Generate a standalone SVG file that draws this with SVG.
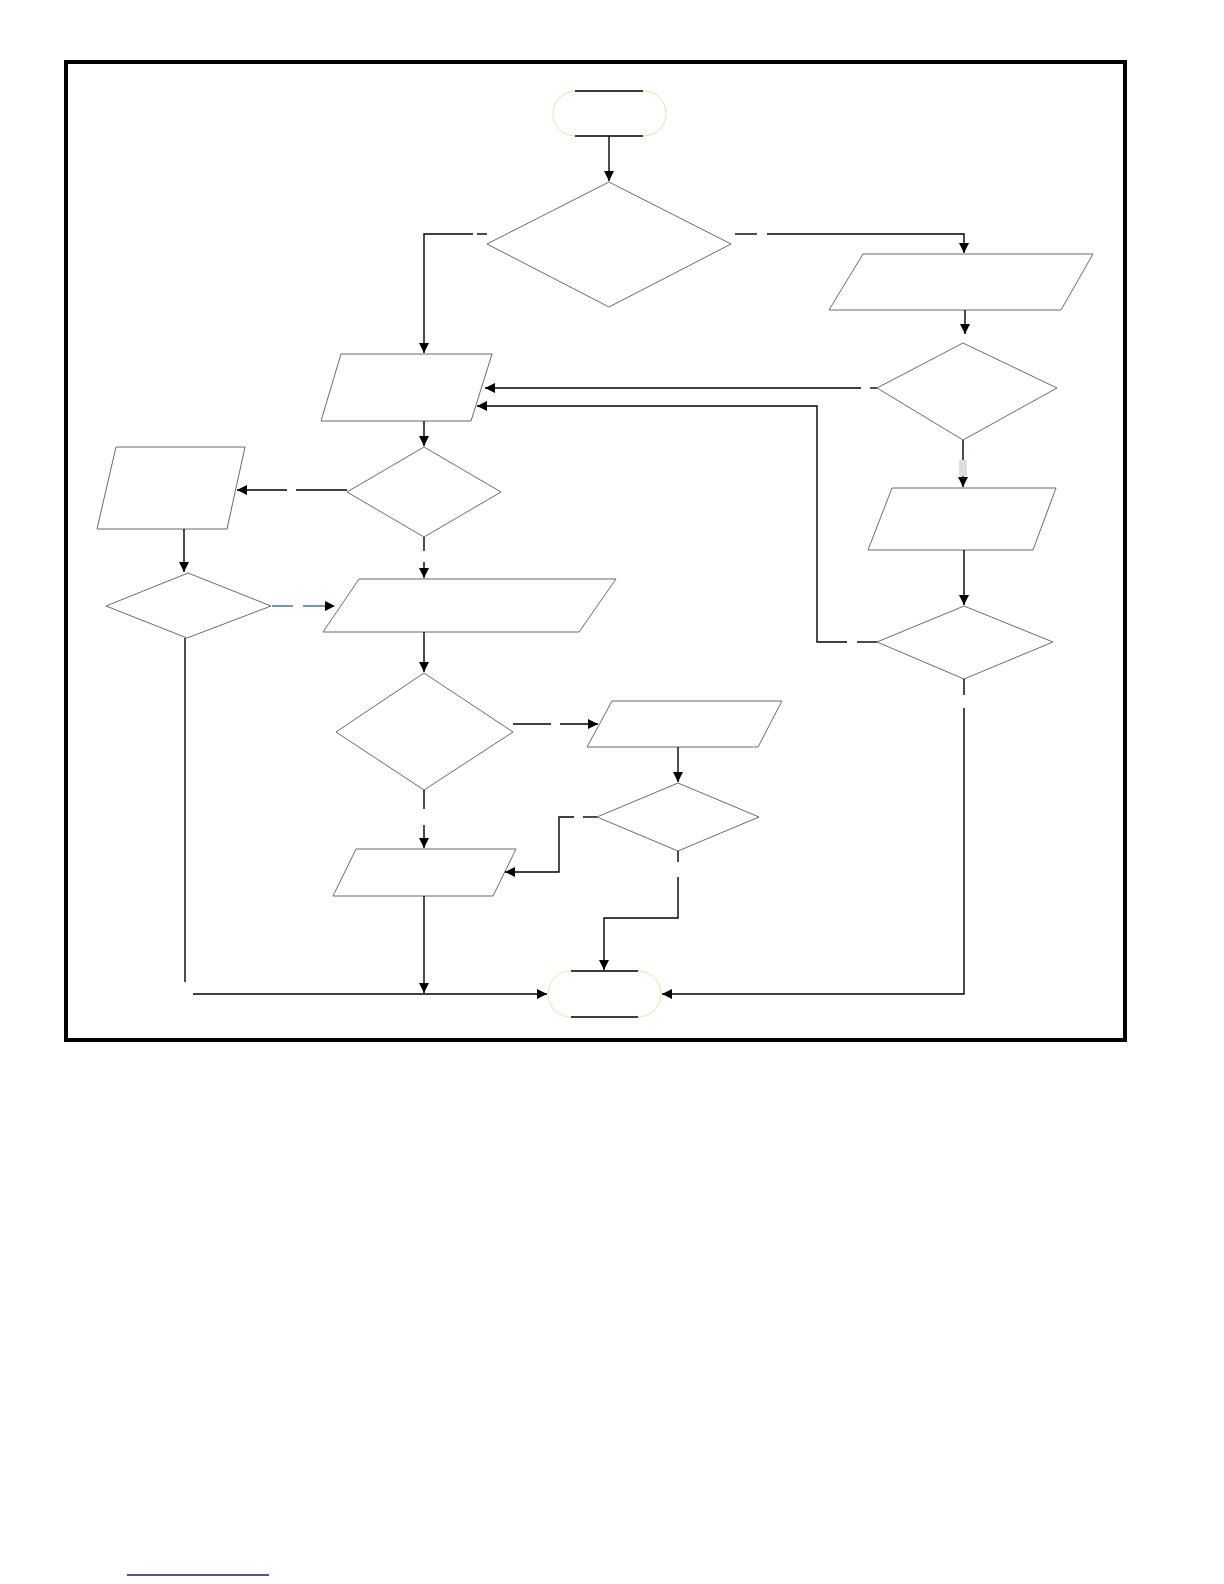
<svg xmlns="http://www.w3.org/2000/svg" width="1224" height="1584" viewBox="0 0 1224 1584">
<style>
.shape{fill:#fff;stroke:#6b6b6b;stroke-width:1}
.term{fill:#fff;stroke:#eadfae;stroke-width:1}
.tl{stroke:#000;stroke-width:1.5}
.c{fill:none;stroke:#000;stroke-width:1.4}
.blue{fill:none;stroke:#2f6e9e;stroke-width:1.4}
</style>
<defs>
<marker id="ah" viewBox="0 0 10 10" refX="10" refY="5" markerWidth="11" markerHeight="10" markerUnits="userSpaceOnUse" orient="auto">
<path d="M0,0 L10,5 L0,10 z" fill="#000"/>
</marker>
</defs>
<rect x="0" y="0" width="1224" height="1584" fill="#fff"/>
<rect id="frame" x="66" y="62" width="1059" height="978" fill="none" stroke="#000" stroke-width="4"/>

<g id="start">
<rect class="term" x="553" y="91" width="113" height="45" rx="22.5"/>
<line class="tl" x1="575" y1="91" x2="643" y2="91"/>
<line class="tl" x1="575" y1="136" x2="643" y2="136"/>
</g>
<g id="d1"><polygon class="shape" points="609,182 731,244 609,307 487,244"/></g>
<g id="p2"><polygon class="shape" points="341,354 492,354 471,421 321,421"/></g>
<g id="d3"><polygon class="shape" points="424,447 501,492 424,537 347,492"/></g>
<g id="p4"><polygon class="shape" points="116,447 245,447 227,529 97,529"/></g>
<g id="d4"><polygon class="shape" points="188,573 271,606 187,638 106,606"/></g>
<g id="p5"><polygon class="shape" points="359,579 616,579 579,632 323,632"/></g>
<g id="d6"><polygon class="shape" points="424,673 513,732 424,790 336,732"/></g>
<g id="p7"><polygon class="shape" points="612,701 782,701 758,747 587,747"/></g>
<g id="d8"><polygon class="shape" points="678,783 759,817 678,851 597,817"/></g>
<g id="p9"><polygon class="shape" points="356,849 516,849 493,896 333,896"/></g>
<g id="p10"><polygon class="shape" points="863,254 1093,254 1061,310 829,310"/></g>
<g id="d11"><polygon class="shape" points="963,343 1057,388 963,440 877,388"/></g>
<g id="p12"><polygon class="shape" points="892,488 1056,488 1033,550 868,550"/></g>
<g id="d13"><polygon class="shape" points="964,606 1053,642 964,679 877,642"/></g>
<g id="end">
<rect class="term" x="548" y="971" width="113" height="46" rx="23"/>
<line class="tl" x1="571" y1="971" x2="638" y2="971"/>
<line class="tl" x1="571" y1="1017" x2="638" y2="1017"/>
</g>

<g id="connectors">
<line class="c" x1="609" y1="136" x2="609" y2="181" marker-end="url(#ah)"/>
<line class="c" x1="487" y1="234" x2="477" y2="234"/>
<path class="c" d="M473,234 H424 V353" marker-end="url(#ah)"/>
<line class="c" x1="735" y1="234" x2="757" y2="234"/>
<path class="c" d="M767,234 H964 V253" marker-end="url(#ah)"/>
<line class="c" x1="965" y1="310" x2="965" y2="334" marker-end="url(#ah)"/>
<line class="c" x1="877" y1="388" x2="870" y2="388"/>
<line class="c" x1="861" y1="388" x2="485" y2="388" marker-end="url(#ah)"/>
<line class="c" x1="963" y1="440" x2="963" y2="487" marker-end="url(#ah)"/>
<rect x="959" y="460" width="8" height="16" fill="#d9dede"/>
<line class="c" x1="964" y1="550" x2="964" y2="605" marker-end="url(#ah)"/>
<line class="c" x1="877" y1="642" x2="857" y2="642"/>
<path class="c" d="M847,642 H817 V406 H477" marker-end="url(#ah)"/>
<line class="c" x1="964" y1="679" x2="964" y2="695"/>
<path class="c" d="M964,708 V994 H662" marker-end="url(#ah)"/>
<line class="c" x1="424" y1="421" x2="424" y2="446" marker-end="url(#ah)"/>
<line class="c" x1="347" y1="490" x2="296" y2="490"/>
<line class="c" x1="287" y1="490" x2="237" y2="490" marker-end="url(#ah)"/>
<line class="c" x1="424" y1="537" x2="424" y2="551"/>
<line class="c" x1="424" y1="562" x2="424" y2="578" marker-end="url(#ah)"/>
<line class="c" x1="184" y1="529" x2="184" y2="572" marker-end="url(#ah)"/>
<line class="blue" x1="272" y1="606" x2="293" y2="606"/>
<line class="blue" x1="303" y1="606" x2="330" y2="606"/>
<path d="M325,601 L335,606 L325,611 z" fill="#000"/>
<line class="c" x1="185" y1="638" x2="185" y2="982"/>
<line class="c" x1="193" y1="994" x2="547" y2="994" marker-end="url(#ah)"/>
<line class="c" x1="424" y1="632" x2="424" y2="672" marker-end="url(#ah)"/>
<line class="c" x1="513" y1="724" x2="551" y2="724"/>
<line class="c" x1="560" y1="724" x2="598" y2="724" marker-end="url(#ah)"/>
<line class="c" x1="678" y1="747" x2="678" y2="782" marker-end="url(#ah)"/>
<line class="c" x1="424" y1="790" x2="424" y2="809"/>
<line class="c" x1="424" y1="825" x2="424" y2="848" marker-end="url(#ah)"/>
<line class="c" x1="597" y1="817" x2="583" y2="817"/>
<path class="c" d="M574,817 H559 V872 H505" marker-end="url(#ah)"/>
<line class="c" x1="678" y1="851" x2="678" y2="862"/>
<path class="c" d="M678,877 V918 H604 V970" marker-end="url(#ah)"/>
<line class="c" x1="424" y1="896" x2="424" y2="993" marker-end="url(#ah)"/>
</g>
<line x1="127" y1="1575" x2="269" y2="1575" stroke="#15197a" stroke-width="1.6"/>
</svg>
